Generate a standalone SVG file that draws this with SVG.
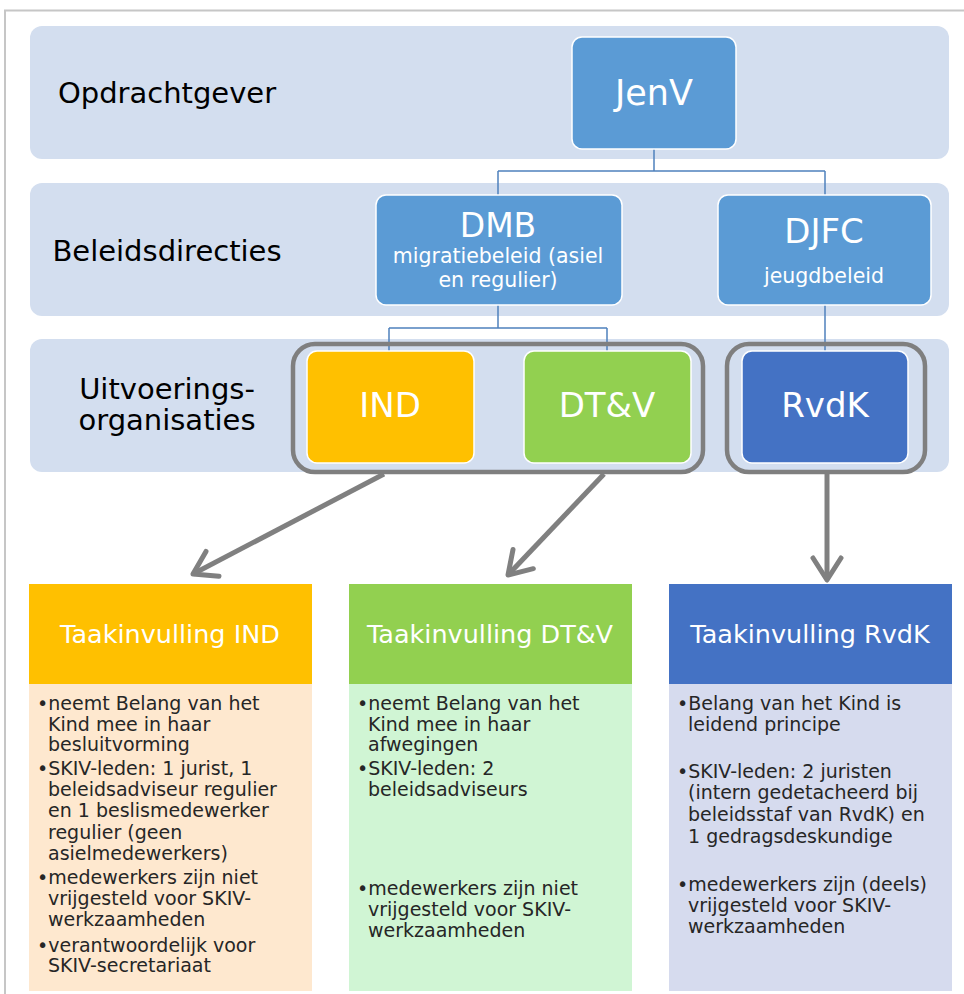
<svg xmlns="http://www.w3.org/2000/svg" width="964" height="994" viewBox="0 0 964 994">
<defs>
<style>
.band{fill:#D3DEEF}
.box{fill:#5B9BD5;stroke:#FFFFFF;stroke-width:1.5}
.lbl{font-family:"DejaVu Sans","Verdana",sans-serif;font-size:29px;fill:#000;text-anchor:middle}
.wt{font-family:"DejaVu Sans","Verdana",sans-serif;fill:#FFFFFF;text-anchor:middle}
.body{font-family:"DejaVu Sans","Verdana",sans-serif;font-size:19px;fill:#262626}
.conn{fill:none;stroke:#4F81BD;stroke-width:1.5}
.grp{fill:none;stroke:#7F7F7F;stroke-width:4.5}
.arrow{fill:none;stroke:#808080;stroke-width:5}
</style>
<marker id="arr" markerUnits="userSpaceOnUse" viewBox="-30 -20 34 40" markerWidth="34" markerHeight="40" refX="0" refY="0" orient="auto">
<path d="M-22,-14 L0,0 L-22,14" fill="none" stroke="#808080" stroke-width="5" stroke-linejoin="round" stroke-linecap="round"/>
</marker>
</defs>
<rect x="0" y="0" width="964" height="994" fill="#FFFFFF"/>
<path d="M5,994 L5,10.5 L964,10.5" fill="none" stroke="#C6C6C6" stroke-width="2"/>

<g id="bands">
<rect class="band" x="30" y="26" width="919" height="133" rx="12"/>
<rect class="band" x="30" y="183" width="919" height="133" rx="12"/>
<rect class="band" x="30" y="339" width="919" height="133" rx="12"/>
<text class="lbl" x="167" y="103">Opdrachtgever</text>
<text class="lbl" x="167" y="261">Beleidsdirecties</text>
<text class="lbl" x="167" y="399">Uitvoerings-</text>
<text class="lbl" x="167" y="430">organisaties</text>
</g>

<g id="connectors">
<path class="conn" d="M654,149 V171 M498,171 H825 M498,171 V195 M825,171 V195"/>
<path class="conn" d="M498,305 V328 M389,328 H607 M389,328 V351 M607,328 V351"/>
<path class="conn" d="M825,305 V351"/>
<line class="arrow" x1="384" y1="474" x2="193" y2="574" marker-end="url(#arr)"/>
<line class="arrow" x1="604" y1="474" x2="508" y2="575" marker-end="url(#arr)"/>
<line class="arrow" x1="827" y1="474" x2="827" y2="580" marker-end="url(#arr)"/>
</g>

<g id="node-jenv">
<rect class="box" x="572" y="37" width="164" height="112" rx="10"/>
<text class="wt" x="654" y="105" font-size="35">JenV</text>
</g>

<g id="node-dmb">
<rect class="box" x="376" y="195" width="246" height="110" rx="10"/>
<text class="wt" x="498" y="237" font-size="33">DMB</text>
<text class="wt" x="498" y="263" font-size="20.5">migratiebeleid (asiel</text>
<text class="wt" x="498" y="287" font-size="20.5">en regulier)</text>
</g>

<g id="node-djfc">
<rect class="box" x="718" y="195" width="213" height="110" rx="10"/>
<text class="wt" x="824" y="243" font-size="34">DJFC</text>
<text class="wt" x="824" y="283" font-size="20.5">jeugdbeleid</text>
</g>

<g id="group-ind-dtv">
<rect class="grp" x="293" y="344" width="410" height="128" rx="22"/>
</g>
<g id="group-rvdk">
<rect class="grp" x="727" y="344" width="198" height="128" rx="22"/>
</g>

<g id="node-ind">
<rect x="307" y="351" width="167" height="112" rx="10" fill="#FFC000" stroke="#FFFFFF" stroke-width="1.5"/>
<text class="wt" x="390" y="417" font-size="34">IND</text>
</g>

<g id="node-dtv">
<rect x="524" y="351" width="167" height="112" rx="10" fill="#92D050" stroke="#FFFFFF" stroke-width="1.5"/>
<text class="wt" x="607" y="417" font-size="34">DT&amp;V</text>
</g>

<g id="node-rvdk">
<rect x="742" y="351" width="166" height="112" rx="10" fill="#4472C4" stroke="#FFFFFF" stroke-width="1.5"/>
<text class="wt" x="825" y="417" font-size="34">RvdK</text>
</g>

<g id="task-ind">
<rect x="29" y="584" width="283" height="100" fill="#FFC000"/>
<rect x="29" y="684" width="283" height="307" fill="#FEE8CF"/>
<text class="wt" x="170" y="643" font-size="25.5">Taakinvulling IND</text>
<text class="body">
<tspan x="37" y="710">•neemt Belang van het</tspan>
<tspan x="48" y="731">Kind mee in haar</tspan>
<tspan x="48" y="751">besluitvorming</tspan>
<tspan x="37" y="775">•SKIV-leden: 1 jurist, 1</tspan>
<tspan x="48" y="796">beleidsadviseur regulier</tspan>
<tspan x="48" y="817">en 1 beslismedewerker</tspan>
<tspan x="48" y="839">regulier (geen</tspan>
<tspan x="48" y="860">asielmedewerkers)</tspan>
<tspan x="37" y="884">•medewerkers zijn niet</tspan>
<tspan x="48" y="905">vrijgesteld voor SKIV-</tspan>
<tspan x="48" y="926">werkzaamheden</tspan>
<tspan x="37" y="952">•verantwoordelijk voor</tspan>
<tspan x="48" y="972">SKIV-secretariaat</tspan>
</text>
</g>

<g id="task-dtv">
<rect x="349" y="584" width="283" height="100" fill="#92D050"/>
<rect x="349" y="684" width="283" height="307" fill="#D0F5D4"/>
<text class="wt" x="490" y="643" font-size="25.5">Taakinvulling DT&amp;V</text>
<text class="body">
<tspan x="357" y="710">•neemt Belang van het</tspan>
<tspan x="368" y="731">Kind mee in haar</tspan>
<tspan x="368" y="751">afwegingen</tspan>
<tspan x="357" y="775">•SKIV-leden: 2</tspan>
<tspan x="368" y="796">beleidsadviseurs</tspan>
<tspan x="357" y="895">•medewerkers zijn niet</tspan>
<tspan x="368" y="916">vrijgesteld voor SKIV-</tspan>
<tspan x="368" y="937">werkzaamheden</tspan>
</text>
</g>

<g id="task-rvdk">
<rect x="669" y="584" width="283" height="100" fill="#4472C4"/>
<rect x="669" y="684" width="283" height="307" fill="#D6DBEE"/>
<text class="wt" x="810" y="643" font-size="25.5">Taakinvulling RvdK</text>
<text class="body">
<tspan x="677" y="710">•Belang van het Kind is</tspan>
<tspan x="688" y="731">leidend principe</tspan>
<tspan x="677" y="778">•SKIV-leden: 2 juristen</tspan>
<tspan x="688" y="799">(intern gedetacheerd bij</tspan>
<tspan x="688" y="821">beleidsstaf van RvdK) en</tspan>
<tspan x="688" y="843">1 gedragsdeskundige</tspan>
<tspan x="677" y="891">•medewerkers zijn (deels)</tspan>
<tspan x="688" y="912">vrijgesteld voor SKIV-</tspan>
<tspan x="688" y="933">werkzaamheden</tspan>
</text>
</g>
</svg>
